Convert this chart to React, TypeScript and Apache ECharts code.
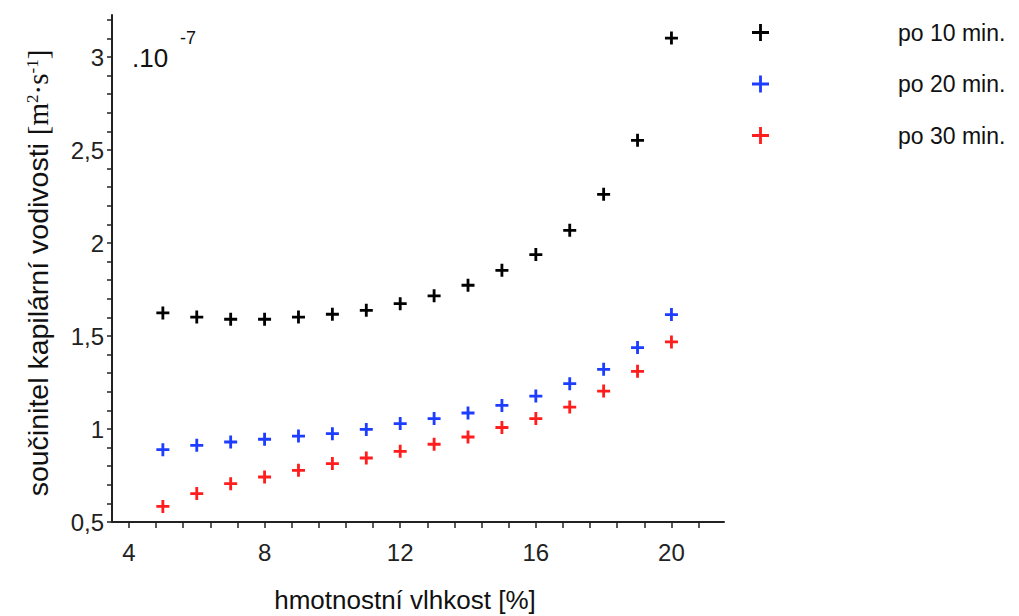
import React, { useEffect, useRef } from "react";
import * as echarts from "echarts";

const moisture = [5, 6, 7, 8, 9, 10, 11, 12, 13, 14, 15, 16, 17, 18, 19, 20];
const po10 = [1.624, 1.602, 1.59, 1.59, 1.602, 1.617, 1.638, 1.674, 1.716, 1.773, 1.853, 1.938, 2.068, 2.262, 2.552, 3.102];
const po20 = [0.889, 0.912, 0.93, 0.945, 0.962, 0.975, 0.998, 1.029, 1.056, 1.086, 1.127, 1.177, 1.244, 1.321, 1.438, 1.615];
const po30 = [0.584, 0.653, 0.706, 0.742, 0.778, 0.814, 0.844, 0.88, 0.918, 0.957, 1.008, 1.056, 1.118, 1.204, 1.31, 1.468];
const seriesNames = ["po 10 min.", "po 20 min.", "po 30 min."];
const seriesColors = ["#000000", "#1d3dff", "#ff1d1d"];
const xLabelValues = [4, 8, 12, 16, 20];
const yLabelValues = [0.5, 1, 1.5, 2, 2.5, 3];

const xTickValues: number[] = [];
for (let i = 0; i <= 21; i++) xTickValues.push(Math.round((4 + i * 0.8) * 10) / 10);
const yTickValues: number[] = [];
for (let i = 0; i <= 27; i++) yTickValues.push(Math.round((0.5 + i * 0.1) * 10) / 10);

const FONT = "'Liberation Sans', Arial, sans-serif";
const SERIF = "'Liberation Serif', 'Times New Roman', serif";
const PLUS = "path://M4.7,0H7.3V4.7H12V7.3H7.3V12H4.7V7.3H0V4.7H4.7Z";
const PLUS_THIN = "path://M5,0H7V5H12V7H7V12H5V7H0V5H5Z";

export default function App() {
  const ref = useRef<HTMLDivElement>(null);
  useEffect(() => {
    if (!ref.current) return;
    const chart = echarts.init(ref.current, undefined, { renderer: "svg" });
    const allData = [po10, po20, po30];
    chart.setOption({
      animation: false,
      backgroundColor: "#ffffff",
      grid: { left: 112, right: 295, top: 15, bottom: 94 },
      legend: {
        left: 752,
        top: 21,
        padding: 0,
        orient: "vertical",
        itemWidth: 17,
        itemHeight: 17,
        itemGap: 28.5,
        icon: PLUS_THIN,
        data: seriesNames,
        textStyle: { fontFamily: FONT, fontSize: 23, lineHeight: 20, color: "#111", padding: [0, 0, 0, 124] },
      },
      xAxis: {
        type: "value",
        min: 3.5,
        max: 21.55,
        axisLine: { lineStyle: { color: "#222", width: 2 } },
        axisTick: { customValues: xTickValues, length: 6, lineStyle: { color: "#222", width: 1.5 } },
        axisLabel: { customValues: xLabelValues, margin: 18, fontFamily: FONT, fontSize: 24, color: "#222" },
        splitLine: { show: false },
      },
      yAxis: {
        type: "value",
        min: 0.5,
        max: 3.226,
        axisLine: { show: true, lineStyle: { color: "#222", width: 2 } },
        axisTick: { show: true, customValues: yTickValues, length: 5, lineStyle: { color: "#222", width: 1.5 } },
        axisLabel: {
          customValues: yLabelValues,
          margin: 8,
          fontFamily: FONT,
          fontSize: 24,
          color: "#222",
          formatter: (v: number) => String(v).replace(".", ","),
        },
        splitLine: { show: false },
      },
      graphic: [
        {
          type: "text",
          x: 38,
          y: 273,
          rotation: Math.PI / 2,
          style: {
            text: "{a|součinitel kapilární vodivosti }{b|[m}{s|2}{b|·s}{s|-1}{b|]}",
            align: "center",
            verticalAlign: "middle",
            rich: {
              a: { fontFamily: FONT, fontSize: 28.5, fill: "#111" },
              b: { fontFamily: SERIF, fontSize: 29, fill: "#111" },
              s: { fontFamily: SERIF, fontSize: 17, fill: "#111", verticalAlign: "top" },
            },
          },
        },
        {
          type: "text",
          x: 132,
          y: 58,
          style: { text: ".10", fontFamily: FONT, fontSize: 26, fill: "#111", verticalAlign: "middle" },
        },
        {
          type: "text",
          x: 180,
          y: 38,
          style: { text: "-7", fontFamily: FONT, fontSize: 18, fill: "#111", verticalAlign: "middle" },
        },
        {
          type: "text",
          x: 405,
          y: 600,
          style: { text: "hmotnostní vlhkost [%]", fontFamily: FONT, fontSize: 26, fill: "#111", align: "center", verticalAlign: "middle" },
        },
      ],
      series: allData.map((d, i) => ({
        name: seriesNames[i],
        type: "scatter",
        symbol: PLUS,
        symbolSize: 13,
        itemStyle: { color: seriesColors[i], opacity: 1 },
        data: moisture.map((x, j) => [x, d[j]]),
      })),
    });
    return () => chart.dispose();
  }, []);
  return <div ref={ref} style={{ width: 1019, height: 616, position: "absolute", left: 0, top: 0 }} />;
}
